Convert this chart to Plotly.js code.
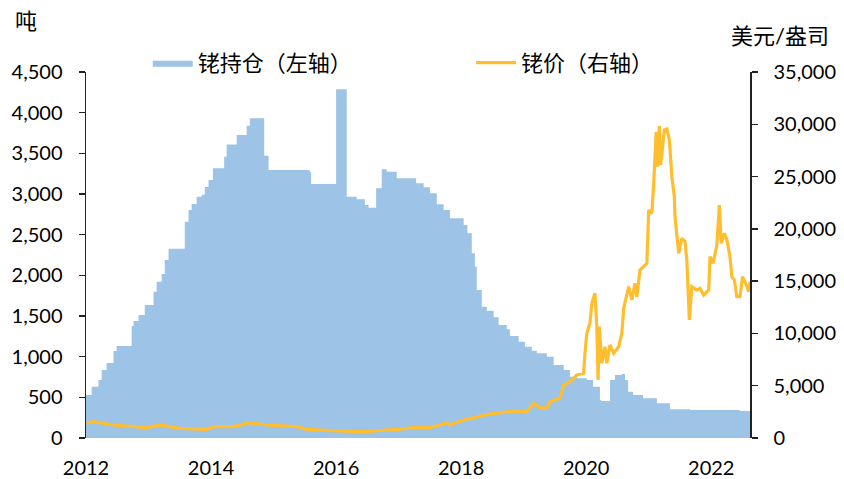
<!DOCTYPE html>
<html>
<head>
<meta charset="utf-8">
<script src="https://cdn.plot.ly/plotly-3.0.1.min.js"></script>
<style>
  html, body { margin: 0; padding: 0; background: #fff; }
  #chart { width: 844px; height: 479px; }
</style>
</head>
<body>
<div id="chart"></div>
<script>
// 铑持仓（吨），x 为年份小数
const holdDates = [2012.00, 2012.09, 2012.20, 2012.25, 2012.33, 2012.44, 2012.49, 2012.73, 2012.76, 2012.84,
  2012.94, 2013.08, 2013.13, 2013.21, 2013.26, 2013.32, 2013.58, 2013.64, 2013.69, 2013.77,
  2013.85, 2013.90, 2013.96, 2014.03, 2014.21, 2014.25, 2014.41, 2014.57, 2014.62, 2014.85,
  2014.92, 2015.58, 2015.60, 2016.00, 2016.17, 2016.33, 2016.46, 2016.52, 2016.64, 2016.73,
  2016.81, 2016.97, 2017.28, 2017.40, 2017.50, 2017.61, 2017.72, 2017.82, 2018.04, 2018.10,
  2018.17, 2018.22, 2018.25, 2018.33, 2018.41, 2018.52, 2018.60, 2018.73, 2018.78, 2018.92,
  2019.02, 2019.13, 2019.21, 2019.37, 2019.48, 2019.64, 2019.74, 2019.85, 2020.01, 2020.11,
  2020.22, 2020.24, 2020.35, 2020.38, 2020.46, 2020.57, 2020.62, 2020.67, 2020.75, 2020.91,
  2021.13, 2021.34, 2021.66, 2022.46, 2022.62];
const holdings = [530, 631, 713, 836, 922, 1070, 1131, 1377, 1439, 1512,
  1635, 1799, 1922, 2016, 2189, 2328, 2660, 2803, 2877, 2967,
  2990, 3086, 3172, 3316, 3459, 3610, 3725, 3840, 3930, 3471,
  3296, 3267, 3123, 4288, 2967, 2935, 2865, 2832, 3070, 3304,
  3275, 3193, 3131, 3082, 3008, 2873, 2803, 2701, 2619, 2516,
  2270, 2107, 1820, 1614, 1565, 1484, 1389, 1336, 1254, 1184,
  1123, 1074, 1041, 1000, 898, 836, 754, 734, 713, 631,
  467, 455, 455, 713, 775, 787, 713, 570, 529, 488,
  426, 352, 344, 332, 324];

// 铑价（美元/盎司）
const priceDates = [2012.01, 2012.12, 2012.44, 2012.70, 2012.97, 2013.18, 2013.50, 2013.93, 2014.04, 2014.36,
  2014.62, 2014.89, 2015.37, 2015.53, 2015.90, 2016.44, 2016.76, 2016.97, 2017.24, 2017.50,
  2017.77, 2017.82, 2018.04, 2018.25, 2018.46, 2018.68, 2018.89, 2019.05, 2019.16, 2019.26,
  2019.37, 2019.42, 2019.58, 2019.64, 2019.74, 2019.85, 2019.96, 2019.98, 2020.01, 2020.06,
  2020.09, 2020.14, 2020.17, 2020.19, 2020.21, 2020.25, 2020.30, 2020.33, 2020.38, 2020.44,
  2020.52, 2020.57, 2020.60, 2020.68, 2020.73, 2020.78, 2020.81, 2020.86, 2020.97, 2021.00,
  2021.05, 2021.08, 2021.12, 2021.14, 2021.17, 2021.19, 2021.25, 2021.29, 2021.33, 2021.37,
  2021.41, 2021.42, 2021.45, 2021.48, 2021.53, 2021.58, 2021.61, 2021.65, 2021.69, 2021.77,
  2021.82, 2021.88, 2021.96, 2021.98, 2022.03, 2022.09, 2022.13, 2022.16, 2022.21, 2022.25,
  2022.30, 2022.33, 2022.37, 2022.41, 2022.46, 2022.50, 2022.56, 2022.60, 2022.62];
const prices = [1405, 1560, 1243, 1083, 988, 1243, 924, 828, 1083, 1083,
  1465, 1243, 1083, 828, 701, 605, 700, 828, 988, 988,
  1465, 1243, 1721, 2040, 2295, 2455, 2582, 2500, 3315, 2900,
  2838, 3475, 3793, 5068, 5385, 6025, 6185, 8100, 10012, 10970,
  12880, 13838, 10643, 5546, 10643, 7143, 8731, 7143, 8894, 8100,
  8731, 10012, 12403, 14469, 13197, 14794, 13500, 16066, 16706, 21804,
  21485, 24357, 29290, 25945, 29837, 26100, 29454, 29550, 28498, 24990,
  23076, 21163, 19575, 17662, 19100, 18800, 17022, 11284, 14469, 14150,
  14300, 13670, 14150, 17340, 16706, 18457, 22282, 18617, 19575, 18940,
  17340, 15426, 15100, 13512, 13512, 15426, 14630, 14000, 14950];

const yearTicks = [2012, 2014, 2016, 2018, 2020, 2022];
const leftTicks = [0, 500, 1000, 1500, 2000, 2500, 3000, 3500, 4000, 4500];
const rightTicks = [0, 5000, 10000, 15000, 20000, 25000, 30000, 35000];

const fontFam = 'Lato, "Noto Sans CJK SC", sans-serif';

const traces = [
  {
    x: holdDates, y: holdings,
    type: 'scatter', mode: 'lines',
    line: { shape: 'hv', width: 0, color: '#9DC3E6' },
    fill: 'tozeroy', fillcolor: '#9DC3E6',
    name: '铑持仓（左轴）',
    legend: 'legend'
  },
  {
    x: priceDates, y: prices,
    type: 'scatter', mode: 'lines',
    line: { color: '#FFBE2E', width: 3.2 },
    yaxis: 'y2',
    name: '铑价（右轴）',
    legend: 'legend2'
  }
];

const legendBase = {
  orientation: 'h', xanchor: 'left', y: 1.025, yanchor: 'middle',
  font: { size: 22 }, bgcolor: 'rgba(0,0,0,0)', itemwidth: 40
};

const layout = {
  width: 844, height: 479,
  margin: { l: 86, r: 94, t: 72, b: 41 },
  paper_bgcolor: '#fff', plot_bgcolor: '#fff',
  font: { family: fontFam, size: 20, color: '#000' },
  showlegend: true,
  legend: Object.assign({}, legendBase, { x: 0.093 }),
  legend2: Object.assign({}, legendBase, { x: 0.58 }),
  xaxis: {
    range: [2012, 2022.62], tickvals: yearTicks, ticktext: yearTicks.map(String),
    showgrid: false, zeroline: false, showline: false, ticks: '',
    ticklabelstandoff: 16
  },
  yaxis: {
    range: [0, 4500], tickvals: leftTicks, tickformat: ',d',
    showgrid: false, zeroline: false, showline: true, linecolor: '#222', linewidth: 1.5,
    ticks: 'outside', ticklen: 6, tickcolor: '#222', tickwidth: 1.5,
    ticklabelstandoff: 12
  },
  yaxis2: {
    range: [0, 35000], tickvals: rightTicks, tickformat: ',d',
    overlaying: 'y', side: 'right',
    showgrid: false, zeroline: false, showline: true, linecolor: '#222', linewidth: 1.5,
    ticks: 'outside', ticklen: 6, tickcolor: '#222', tickwidth: 1.5,
    ticklabelstandoff: 12
  },
  annotations: [
    { text: '吨', xref: 'paper', yref: 'paper', x: -0.09, y: 1.14, xanchor: 'center', yanchor: 'middle', showarrow: false, font: { size: 22 } },
    { text: '美元/盎司', xref: 'paper', yref: 'paper', x: 1.045, y: 1.1, xanchor: 'center', yanchor: 'middle', showarrow: false, font: { size: 22 } }
  ]
};

Plotly.newPlot('chart', traces, layout, { displayModeBar: false, staticPlot: true });
</script>
</body>
</html>
